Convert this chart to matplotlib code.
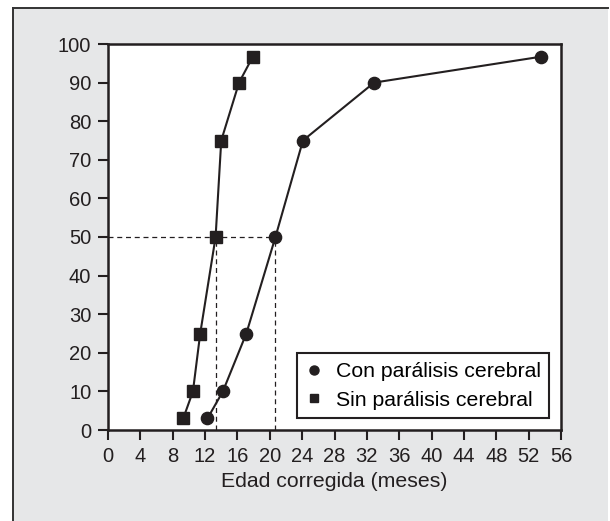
import matplotlib
matplotlib.use("Agg")
import matplotlib.pyplot as plt
from matplotlib.patches import Rectangle
from matplotlib.lines import Line2D

plt.rcParams["font.family"] = ["Liberation Sans", "DejaVu Sans"]

# data
con_x = [12.3, 14.2, 17.1, 20.7, 24.1, 32.9, 53.5]
con_y = [3, 10, 25, 50, 75, 90, 96.7]
sin_x = [9.3, 10.5, 11.4, 13.3, 14.0, 16.2, 17.9]
sin_y = [3, 10, 25, 50, 75, 90, 96.7]
xticks = list(range(0, 57, 4))
yticks = list(range(0, 101, 10))
median_sin, median_con = 13.3, 20.7

INK = "#231f20"
BG = "#e6e7e8"

fig = plt.figure(figsize=(6.10, 5.21), dpi=100)
fig.patch.set_facecolor("white")
fig.patches.append(Rectangle((13/610, 0), 595/610, 513/521, transform=fig.transFigure,
                             facecolor=BG, edgecolor="none", zorder=-10))
fig.lines.append(Line2D([13/610, 13/610], [0, 513/521], transform=fig.transFigure,
                        color="#333333", lw=1.4, zorder=-9))
fig.lines.append(Line2D([13/610, 608/610], [513/521, 513/521], transform=fig.transFigure,
                        color="#333333", lw=1.4, zorder=-9))

ax = fig.add_axes([108/610, 91/521, 453/610, 386/521])
ax.set_facecolor("white")

# dashed medians
ax.plot([0, median_con], [50, 50], color=INK, lw=0.9, ls=(0, (4, 3)), zorder=2)
ax.plot([median_sin, median_sin], [0, 50], color=INK, lw=0.9, ls=(0, (4, 3)), zorder=2)
ax.plot([median_con, median_con], [0, 50], color=INK, lw=0.9, ls=(0, (4, 3)), zorder=2)

ax.plot(con_x, con_y, color=INK, lw=1.5, marker="o", ms=8.8, mfc=INK, mec=INK, zorder=3,
        label="Con parálisis cerebral", clip_on=False)
ax.plot(sin_x, sin_y, color=INK, lw=1.5, marker="s", ms=8.5, mfc=INK, mec=INK, zorder=3,
        label="Sin parálisis cerebral", clip_on=False)

ax.set_xlim(0, 56); ax.set_ylim(0, 100)
ax.set_xticks(xticks); ax.set_yticks(yticks)
ax.tick_params(direction="out", length=7.5, width=1.5, colors=INK, labelsize=14.5, pad=4.5)
for s in ax.spines.values():
    s.set_color(INK); s.set_linewidth(1.8)
ax.set_xlabel("Edad corregida (meses)", fontsize=15.3, color=INK, labelpad=4.5)

h = [Line2D([0], [0], color=INK, marker="o", ls="none", ms=6.5),
     Line2D([0], [0], color=INK, marker="s", ls="none", ms=6)]
leg = ax.legend(h, ["Con parálisis cerebral", "Sin parálisis cerebral"], loc="lower right",
                bbox_to_anchor=(0.974, 0.031), fontsize=15.3, frameon=True, fancybox=False,
                edgecolor=INK, framealpha=1, handlelength=0.8, handletextpad=0.6,
                borderpad=0.4, labelspacing=0.45, borderaxespad=0)
leg.get_frame().set_linewidth(1.5)

fig.savefig("out.png", dpi=100)
